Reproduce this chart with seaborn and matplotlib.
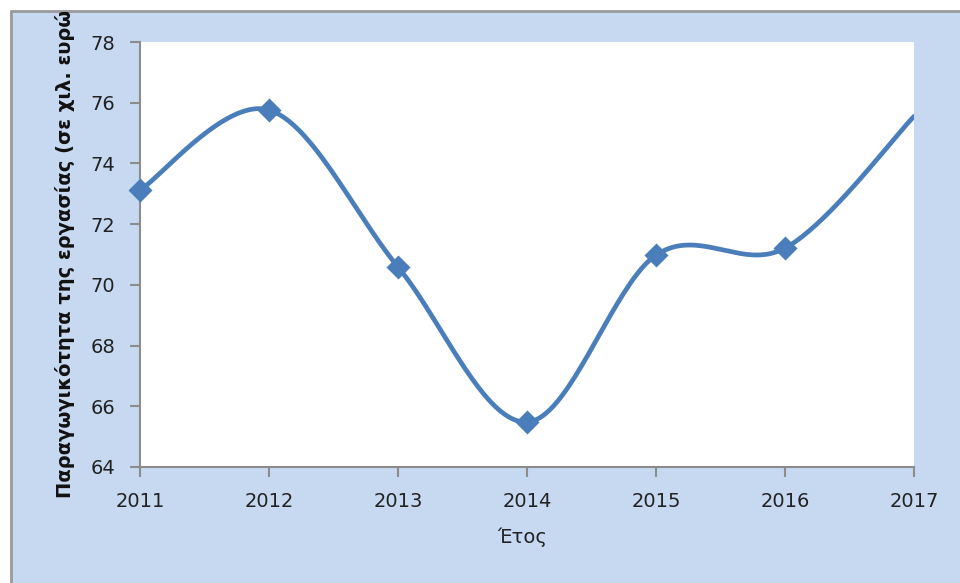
import numpy as np
import pandas as pd
import matplotlib
matplotlib.use("Agg")
import matplotlib.pyplot as plt
from matplotlib.patches import Rectangle
from matplotlib.lines import Line2D
import seaborn as sns

# Labour productivity (thousand euro) by year
years = [2011, 2012, 2013, 2014, 2015, 2016, 2017]
productivity = [73.12, 75.76, 70.59, 65.48, 70.98, 71.21, 75.55]
y_ticks = [64, 66, 68, 70, 72, 74, 76, 78]
x_label = "Έτος"
y_label = "Παραγωγικότητα της εργασίας (σε χιλ. ευρώ)"

LINE_BLUE = "#4a7ebb"
PANEL_BLUE = "#c6d9f1"
AXIS_GREY = "#8c8c8c"


def smooth_curve(x, y, steps=40):
    """Catmull-Rom style smoothing through every point (spreadsheet 'smoothed line')."""
    x = np.asarray(x, float)
    y = np.asarray(y, float)
    # end points are repeated so the curve leaves/enters them along the chord
    px = np.concatenate([[x[0]], x, [x[-1]]])
    py = np.concatenate([[y[0]], y, [y[-1]]])
    xs, ys = [], []
    t = np.linspace(0, 1, steps, endpoint=False)
    for i in range(1, len(px) - 2):
        p0x, p1x, p2x, p3x = px[i - 1:i + 3]
        p0y, p1y, p2y, p3y = py[i - 1:i + 3]
        # Bezier control points with tension 1/6
        c1x, c1y = p1x + (p2x - p0x) / 6, p1y + (p2y - p0y) / 6
        c2x, c2y = p2x - (p3x - p1x) / 6, p2y - (p3y - p1y) / 6
        bx = (1 - t) ** 3 * p1x + 3 * (1 - t) ** 2 * t * c1x + 3 * (1 - t) * t ** 2 * c2x + t ** 3 * p2x
        by = (1 - t) ** 3 * p1y + 3 * (1 - t) ** 2 * t * c1y + 3 * (1 - t) * t ** 2 * c2y + t ** 3 * p2y
        xs.append(bx)
        ys.append(by)
    xs.append([x[-1]])
    ys.append([y[-1]])
    return np.concatenate(xs), np.concatenate(ys)


sns.set_theme(style="white")
plt.rcParams["font.family"] = ["DejaVu Sans"]

W, H = 960, 583
fig = plt.figure(figsize=(W / 100, H / 100), dpi=100)
fig.patch.set_facecolor("white")

# light-blue chart panel with a grey frame on its top and left edges
panel = Rectangle((12 / W, 0), 1 - 12 / W, 1 - 12 / H, transform=fig.transFigure,
                  facecolor=PANEL_BLUE, edgecolor="none", zorder=-10)
fig.patches.append(panel)
fig.lines.append(Line2D([11 / W, 11 / W], [0, 1 - 11 / H], transform=fig.transFigure,
                        color="#9a9a9a", lw=2, zorder=-5))
fig.lines.append(Line2D([11 / W, 1], [1 - 11 / H, 1 - 11 / H], transform=fig.transFigure,
                        color="#9a9a9a", lw=2, zorder=-5))

ax = fig.add_axes([140 / W, 1 - 467 / H, 774 / W, 425 / H])
ax.set_facecolor("white")

sx, sy = smooth_curve(years, productivity)
curve = pd.DataFrame({"year": sx, "value": sy})
points = pd.DataFrame({"year": years, "value": productivity})

sns.lineplot(data=curve, x="year", y="value", ax=ax, color=LINE_BLUE, lw=3.4,
             sort=False, estimator=None)
sns.scatterplot(data=points.iloc[:-1], x="year", y="value", ax=ax, marker="D",
                s=150, color=LINE_BLUE, edgecolor=LINE_BLUE, linewidth=0,
                zorder=5, clip_on=False)

ax.set_xlim(years[0], years[-1])
ax.set_ylim(y_ticks[0], y_ticks[-1])
ax.set_xticks(years)
ax.set_yticks(y_ticks)
ax.set_xticklabels([str(y) for y in years])

for side in ("top", "right"):
    ax.spines[side].set_visible(False)
for side in ("left", "bottom"):
    ax.spines[side].set_color(AXIS_GREY)
    ax.spines[side].set_linewidth(1.5)

ax.tick_params(axis="both", which="major", direction="out", length=7, width=1.5,
               color=AXIS_GREY, labelsize=14, labelcolor="#222222", pad=11)
ax.tick_params(axis="y", left=True)
ax.tick_params(axis="x", bottom=True)

ax.set_xlabel(x_label, fontsize=14, color="#222222", labelpad=12)
ax.xaxis.set_label_coords((522 - 140) / 774, -(537 - 467) / 425)
ax.xaxis.label.set_va("center")

ax.set_ylabel(y_label, fontsize=14, fontweight="bold", color="#111111")
ax.yaxis.label.set_ha("left")
ax.yaxis.label.set_va("baseline")
ax.yaxis.set_label_coords((71 - 140) / 774, -(498 - 467) / 425)
ax.yaxis.label.set_clip_path(panel)

fig.savefig("out.png", dpi=100, facecolor=fig.get_facecolor())
